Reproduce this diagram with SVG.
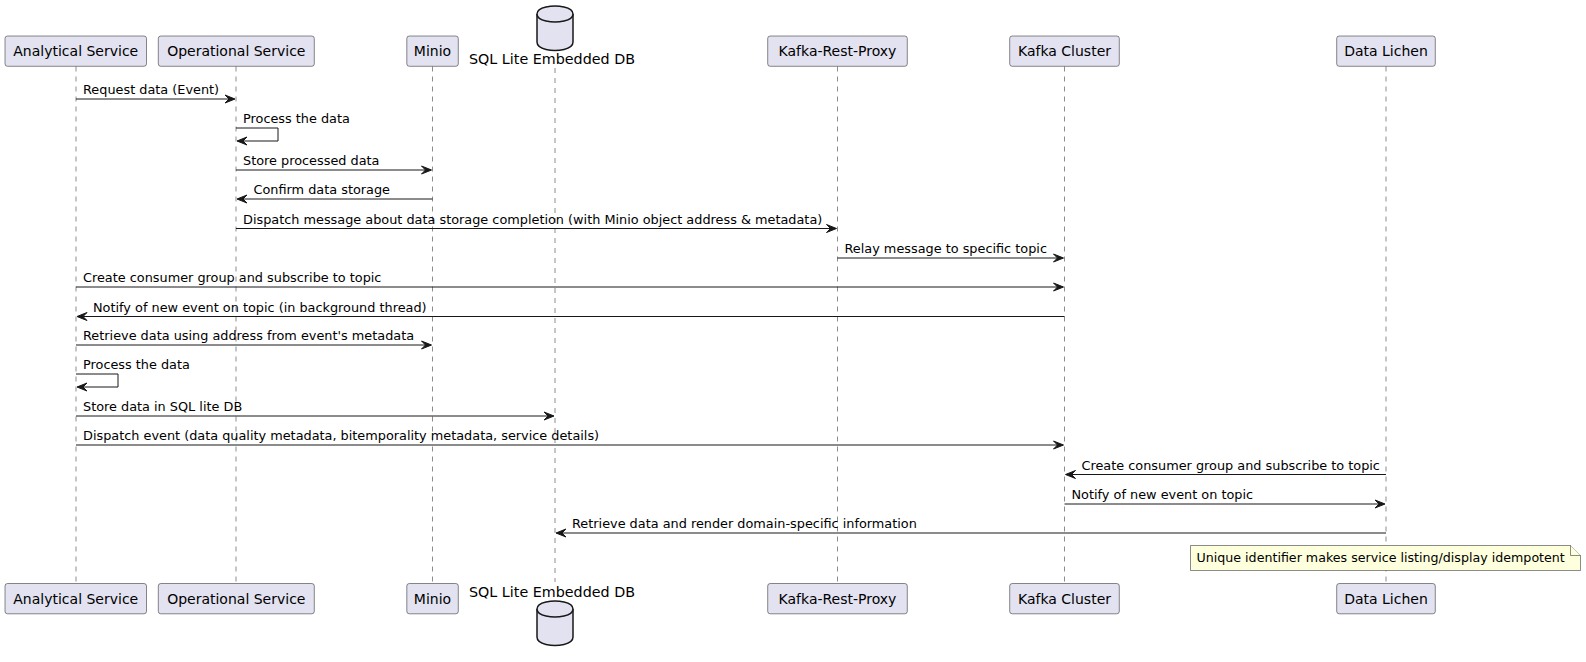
<svg xmlns="http://www.w3.org/2000/svg" width="1586" height="662" viewBox="0 0 1586 662">
<style>
text{font-family:"DejaVu Sans",sans-serif;fill:#000}
.p{fill:#E2E2F0;stroke:#181818;stroke-width:0.5}
.pt{font-size:14px;text-anchor:middle}
.dbt{font-size:14.3px;text-anchor:middle}
.db{fill:#E2E2F0;stroke:#181818;stroke-width:1.5}
.life{stroke:#181818;stroke-width:0.5;stroke-dasharray:5,5}
.m{stroke:#181818;stroke-width:1;fill:none}
.h{fill:#181818;stroke:#181818;stroke-width:1}
.mt{font-size:12.85px}
.nt{font-size:12.65px}
.note{fill:#FEFFDD;stroke:#181818;stroke-width:0.5}
</style>
<rect width="1586" height="662" fill="#FFFFFF"/>
<g id="lifelines">
<line class="life" x1="76" y1="66.5" x2="76" y2="583.5"/>
<line class="life" x1="236" y1="66.5" x2="236" y2="583.5"/>
<line class="life" x1="432.5" y1="66.5" x2="432.5" y2="583.5"/>
<line class="life" x1="555" y1="68" x2="555" y2="582"/>
<line class="life" x1="837.5" y1="66.5" x2="837.5" y2="583.5"/>
<line class="life" x1="1064.5" y1="66.5" x2="1064.5" y2="583.5"/>
<line class="life" x1="1386" y1="66.5" x2="1386" y2="583.5"/>
</g>
<g id="analytical">
<rect class="p" x="5" y="36" width="141.5" height="30.3" rx="2.5"/>
<text class="pt" x="75.75" y="56">Analytical Service</text>
<rect class="p" x="5" y="583.5" width="141.5" height="30.3" rx="2.5"/>
<text class="pt" x="75.75" y="603.5">Analytical Service</text>
</g>
<g id="operational">
<rect class="p" x="158.3" y="36" width="156" height="30.3" rx="2.5"/>
<text class="pt" x="236.3" y="56">Operational Service</text>
<rect class="p" x="158.3" y="583.5" width="156" height="30.3" rx="2.5"/>
<text class="pt" x="236.3" y="603.5">Operational Service</text>
</g>
<g id="minio">
<rect class="p" x="406.8" y="36" width="51.5" height="30.3" rx="2.5"/>
<text class="pt" x="432.5" y="56">Minio</text>
<rect class="p" x="406.8" y="583.5" width="51.5" height="30.3" rx="2.5"/>
<text class="pt" x="432.5" y="603.5">Minio</text>
</g>
<g id="sqlite">
<path class="db" d="M537,14 C537,6 555,6 555,6 C555,6 573,6 573,14 L573,42 C573,50.5 555,50.5 555,50.5 C555,50.5 537,50.5 537,42 Z"/>
<path class="db" fill="none" d="M537,14 C537,22 555,22 555,22 C555,22 573,22 573,14"/>
<text class="dbt" x="552" y="63.5">SQL Lite Embedded DB</text>
<text class="dbt" x="552" y="596.5">SQL Lite Embedded DB</text>
<path class="db" d="M537,609 C537,601 555,601 555,601 C555,601 573,601 573,609 L573,637 C573,645.5 555,645.5 555,645.5 C555,645.5 537,645.5 537,637 Z"/>
<path class="db" fill="none" d="M537,609 C537,617 555,617 555,617 C555,617 573,617 573,609"/>
</g>
<g id="kafka-rest-proxy">
<rect class="p" x="767.7" y="36" width="139.6" height="30.3" rx="2.5"/>
<text class="pt" x="837.5" y="56">Kafka-Rest-Proxy</text>
<rect class="p" x="767.7" y="583.5" width="139.6" height="30.3" rx="2.5"/>
<text class="pt" x="837.5" y="603.5">Kafka-Rest-Proxy</text>
</g>
<g id="kafka-cluster">
<rect class="p" x="1009.7" y="36" width="109.6" height="30.3" rx="2.5"/>
<text class="pt" x="1064.5" y="56">Kafka Cluster</text>
<rect class="p" x="1009.7" y="583.5" width="109.6" height="30.3" rx="2.5"/>
<text class="pt" x="1064.5" y="603.5">Kafka Cluster</text>
</g>
<g id="data-lichen">
<rect class="p" x="1336.7" y="36" width="98.6" height="30.3" rx="2.5"/>
<text class="pt" x="1386" y="56">Data Lichen</text>
<rect class="p" x="1336.7" y="583.5" width="98.6" height="30.3" rx="2.5"/>
<text class="pt" x="1386" y="603.5">Data Lichen</text>
</g>
<g id="connectors">
<line class="m" x1="76" y1="99" x2="234" y2="99"/><polygon class="h" points="225,95 235,99 225,103 229,99"/>
<text class="mt" x="83" y="94">Request data (Event)</text>

<polyline class="m" points="236,128 278,128 278,141 238,141"/><polygon class="h" points="247,137 237,141 247,145 243,141"/>
<text class="mt" x="243" y="123">Process the data</text>

<line class="m" x1="236" y1="170" x2="430.5" y2="170"/><polygon class="h" points="421.5,166 431.5,170 421.5,174 425.5,170"/>
<text class="mt" x="243" y="165">Store processed data</text>

<line class="m" x1="238" y1="199" x2="432.5" y2="199"/><polygon class="h" points="247,195 237,199 247,203 243,199"/>
<text class="mt" x="253.5" y="194">Confirm data storage</text>

<line class="m" x1="236" y1="228.5" x2="835.5" y2="228.5"/><polygon class="h" points="826.5,224.5 836.5,228.5 826.5,232.5 830.5,228.5"/>
<text class="mt" x="243" y="223.5">Dispatch message about data storage completion (with Minio object address &amp; metadata)</text>

<line class="m" x1="837.5" y1="258" x2="1062.5" y2="258"/><polygon class="h" points="1053.5,254 1063.5,258 1053.5,262 1057.5,258"/>
<text class="mt" x="844.5" y="253">Relay message to specific topic</text>

<line class="m" x1="76" y1="287" x2="1062.5" y2="287"/><polygon class="h" points="1053.5,283 1063.5,287 1053.5,291 1057.5,287"/>
<text class="mt" x="83" y="282">Create consumer group and subscribe to topic</text>

<line class="m" x1="78" y1="316.5" x2="1064.5" y2="316.5"/><polygon class="h" points="87,312.5 77,316.5 87,320.5 83,316.5"/>
<text class="mt" x="93" y="311.5">Notify of new event on topic (in background thread)</text>

<line class="m" x1="76" y1="345" x2="430.5" y2="345"/><polygon class="h" points="421.5,341 431.5,345 421.5,349 425.5,345"/>
<text class="mt" x="83" y="340">Retrieve data using address from event's metadata</text>

<polyline class="m" points="76,374 118,374 118,387 78,387"/><polygon class="h" points="87,383 77,387 87,391 83,387"/>
<text class="mt" x="83" y="369">Process the data</text>

<line class="m" x1="76" y1="416" x2="553" y2="416"/><polygon class="h" points="544,412 554,416 544,420 548,416"/>
<text class="mt" x="83" y="411">Store data in SQL lite DB</text>

<line class="m" x1="76" y1="445" x2="1062.5" y2="445"/><polygon class="h" points="1053.5,441 1063.5,445 1053.5,449 1057.5,445"/>
<text class="mt" x="83" y="440">Dispatch event (data quality metadata, bitemporality metadata, service details)</text>

<line class="m" x1="1066.5" y1="474.5" x2="1386" y2="474.5"/><polygon class="h" points="1075.5,470.5 1065.5,474.5 1075.5,478.5 1071.5,474.5"/>
<text class="mt" x="1081.5" y="469.5">Create consumer group and subscribe to topic</text>

<line class="m" x1="1064.5" y1="504" x2="1384" y2="504"/><polygon class="h" points="1375,500 1385,504 1375,508 1379,504"/>
<text class="mt" x="1071.5" y="499">Notify of new event on topic</text>

<line class="m" x1="557" y1="533" x2="1386" y2="533"/><polygon class="h" points="566,529 556,533 566,537 562,533"/>
<text class="mt" x="572" y="528">Retrieve data and render domain-specific information</text>
</g>
<g id="note">
<path class="note" d="M1190.5,545.5 L1190.5,570.5 L1580.5,570.5 L1580.5,555.5 L1570.5,545.5 Z"/>
<path class="note" d="M1570.5,545.5 L1570.5,555.5 L1580.5,555.5"/>
<text class="nt" x="1196.5" y="562">Unique identifier makes service listing/display idempotent</text>
</g>
</svg>
